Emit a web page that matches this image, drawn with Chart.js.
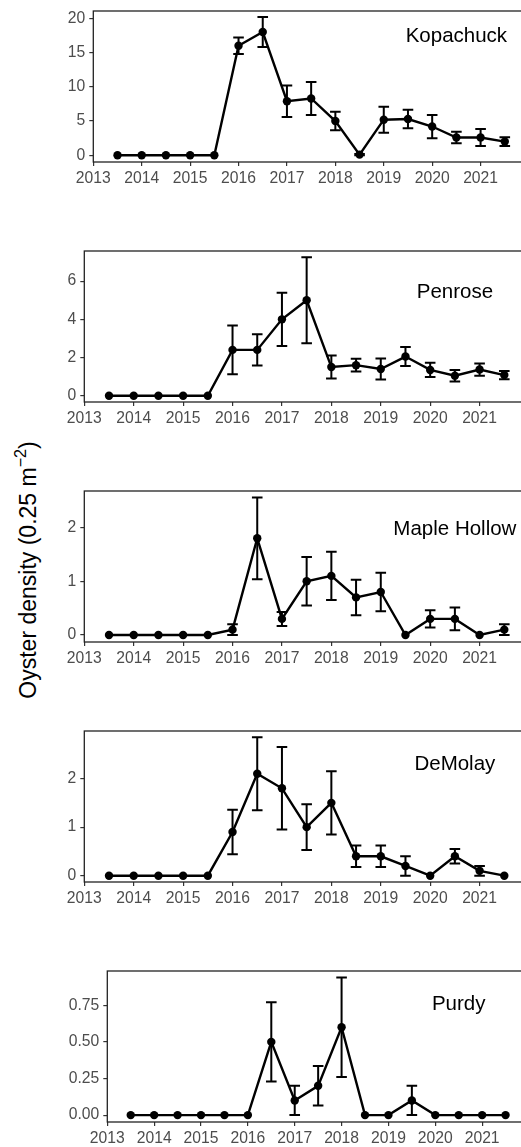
<!DOCTYPE html>
<html><head><meta charset="utf-8">
<script src="https://cdn.jsdelivr.net/npm/chart.js@4.4.1/dist/chart.umd.min.js"></script>
<style>
html,body{margin:0;padding:0;width:521px;height:1147px;overflow:hidden;background:#fff;}
.panel{position:absolute;left:0;width:530px;height:200px;}
#ytitle{position:absolute;left:28px;top:570px;transform:translate(-50%,-50%) rotate(-90deg);white-space:nowrap;font-family:"Liberation Sans",Arial,sans-serif;font-size:23px;color:#000;line-height:1.15;}
#ytitle sup{font-size:0.7em;line-height:0;vertical-align:0.6em;}
</style></head><body>
<div id="ytitle">Oyster density (0.25 m<sup>−2</sup>)</div>
<div class="panel" style="top:0px"><canvas id="c0" width="530" height="200"></canvas></div>
<div class="panel" style="top:240px"><canvas id="c1" width="530" height="200"></canvas></div>
<div class="panel" style="top:480px"><canvas id="c2" width="530" height="200"></canvas></div>
<div class="panel" style="top:720px"><canvas id="c3" width="530" height="200"></canvas></div>
<div class="panel" style="top:960px"><canvas id="c4" width="530" height="200"></canvas></div>
<script>
// ---- data ----
const years = [2013.5,2014,2014.5,2015,2015.5,2016,2016.5,2017,2017.5,2018,2018.5,2019,2019.5,2020,2020.5,2021,2021.5];
const xTickYears = [2013,2014,2015,2016,2017,2018,2019,2020,2021];
const siteNames = ['Kopachuck','Penrose','Maple Hollow','DeMolay','Purdy'];

const kopachuckMean = [0,0,0,0,0,16.0,18.0,7.9,8.3,5.0,0.1,5.2,5.3,4.2,2.6,2.6,2.0];
const kopachuckSE   = [0,0,0,0,0,1.2,2.2,2.3,2.4,1.35,0.1,1.9,1.35,1.7,0.85,1.25,0.65];
const penroseMean   = [0,0,0,0,0,2.4,2.4,4.0,5.0,1.5,1.6,1.4,2.05,1.35,1.05,1.37,1.08];
const penroseSE     = [0,0,0,0,0,1.28,0.82,1.39,2.25,0.6,0.33,0.55,0.5,0.37,0.3,0.32,0.22];
const mapleMean     = [0,0,0,0,0,0.1,1.8,0.3,1.0,1.1,0.7,0.8,0,0.3,0.3,0,0.1];
const mapleSE       = [0,0,0,0,0,0.1,0.76,0.13,0.45,0.45,0.33,0.36,0,0.16,0.21,0,0.1];
const demolayMean   = [0,0,0,0,0,0.9,2.1,1.8,1.0,1.5,0.4,0.4,0.2,0,0.4,0.1,0];
const demolaySE     = [0,0,0,0,0,0.46,0.75,0.85,0.47,0.65,0.22,0.22,0.2,0,0.15,0.1,0];
const purdyMean     = [0,0,0,0,0,0,0.5,0.1,0.2,0.6,0,0,0.1,0,0,0,0];
const purdySE       = [0,0,0,0,0,0,0.27,0.1,0.135,0.34,0,0,0.1,0,0,0,0];

const kopachuckTicks = [0,5,10,15,20];
const penroseTicks   = [0,2,4,6];
const mapleTicks     = [0,1,2];
const demolayTicks   = [0,1,2];
const purdyTicks     = [0,0.25,0.5,0.75];

const labelY = [17.3,5.4,1.97,2.29,0.758];
const labelX = 2020.5;

// ---- layout ----
const panels = [
  {mean:kopachuckMean, se:kopachuckSE, ticks:kopachuckTicks, dec:0, min:-0.98, max:21.07, left:93.3},
  {mean:penroseMean,   se:penroseSE,   ticks:penroseTicks,   dec:0, min:-0.33, max:7.58,  left:84.3},
  {mean:mapleMean,     se:mapleSE,     ticks:mapleTicks,     dec:0, min:-0.13, max:2.68,  left:84.3},
  {mean:demolayMean,   se:demolaySE,   ticks:demolayTicks,   dec:0, min:-0.13, max:2.98,  left:84.3},
  {mean:purdyMean,     se:purdySE,     ticks:purdyTicks,     dec:2, min:-0.047,max:0.984, left:107.3}
];

const FONT = '"Liberation Sans", Arial, sans-serif';

const errPlugin = {
  id:'errbars',
  afterDatasetsDraw(chart, args, o){
    const {ctx, scales:{x,y}} = chart;
    ctx.save();
    ctx.strokeStyle='#000'; ctx.lineWidth=2; ctx.lineCap='butt';
    o.mean.forEach((m,i)=>{
      const e=o.se[i]; if(!e) return;
      const px=x.getPixelForValue(years[i]);
      const t=y.getPixelForValue(m+e), b=y.getPixelForValue(m-e);
      const w=5.3;
      ctx.beginPath();
      ctx.moveTo(px,t); ctx.lineTo(px,b);
      ctx.moveTo(px-w,t); ctx.lineTo(px+w,t);
      ctx.moveTo(px-w,b); ctx.lineTo(px+w,b);
      ctx.stroke();
    });
    ctx.restore();
  }
};
const boxPlugin = {
  id:'box',
  afterDraw(chart, args, o){
    const {ctx, chartArea:a, scales:{x,y}} = chart;
    ctx.save();
    ctx.strokeStyle='#222'; ctx.lineWidth=1.3;
    ctx.strokeRect(a.left, a.top, a.right-a.left, a.bottom-a.top);
    ctx.fillStyle='#000';
    ctx.font='20.5px '+FONT;
    ctx.textAlign='center'; ctx.textBaseline='middle';
    ctx.fillText(o.label, x.getPixelForValue(labelX), y.getPixelForValue(o.labelY));
    ctx.restore();
  }
};

panels.forEach((p,k)=>{
  new Chart(document.getElementById('c'+k), {
    type:'line',
    data:{datasets:[{
      data: years.map((yr,i)=>({x:yr, y:p.mean[i]})),
      borderColor:'#000', backgroundColor:'#000', borderWidth:2.4,
      pointRadius:4.2, pointHoverRadius:4.2, pointBackgroundColor:'#000', pointBorderWidth:0,
      tension:0, clip:false
    }]},
    options:{
      responsive:false, animation:false, devicePixelRatio:1,
      layout:{autoPadding:false, padding:{top:11,left:0,right:1,bottom:0}},
      plugins:{legend:{display:false}, tooltip:{enabled:false},
        errbars:{mean:p.mean, se:p.se},
        box:{label:siteNames[k], labelY:labelY[k]}},
      scales:{
        x:{type:'linear', min:2013, max:2022,
          afterBuildTicks:s=>{s.ticks = xTickYears.map(v=>({value:v}));},
          afterFit:s=>{s.height=38; s.paddingLeft=0; s.paddingRight=0;},
          ticks:{autoSkip:false, maxRotation:0, color:'#4d4d4d', padding:3, font:{family:FONT,size:15.7}, callback:v=>String(v)},
          grid:{display:true, drawOnChartArea:false, drawTicks:true, tickLength:4, color:'#333', lineWidth:1.2},
          border:{display:false}
        },
        y:{type:'linear', min:p.min, max:p.max,
          afterBuildTicks:s=>{s.ticks = p.ticks.map(v=>({value:v}));},
          afterFit:s=>{s.width=p.left; s.paddingTop=0; s.paddingBottom=0;},
          ticks:{color:'#4d4d4d', padding:4, font:{family:FONT,size:15.7}, callback:v=>Number(v).toFixed(p.dec)},
          grid:{display:true, drawOnChartArea:false, drawTicks:true, tickLength:4, color:'#333', lineWidth:1.2},
          border:{display:false}
        }
      }
    },
    plugins:[errPlugin, boxPlugin]
  });
});
</script>
</body></html>
